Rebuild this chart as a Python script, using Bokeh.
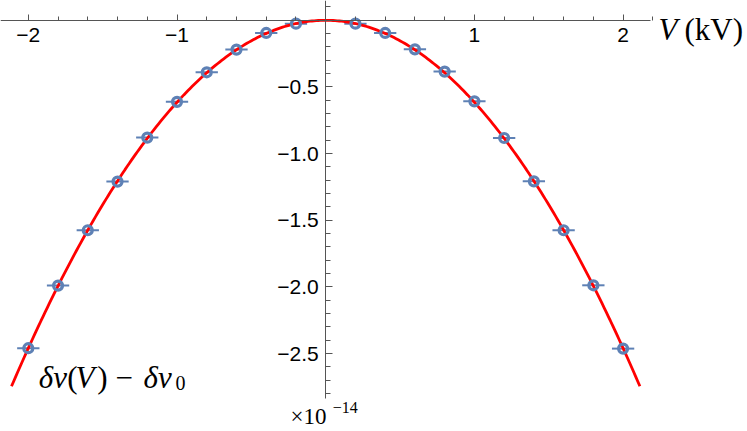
import numpy as np
from bokeh.plotting import figure
from bokeh.models import LinearAxis, FixedTicker, Label, Range1d
from bokeh.embed import file_html
from bokeh.resources import INLINE

# ---- data ----
V_kV = [-2.0, -1.8, -1.6, -1.4, -1.2, -1.0, -0.8, -0.6, -0.4, -0.2,
        0.2, 0.4, 0.6, 0.8, 1.0, 1.2, 1.4, 1.6, 1.8, 2.0]
dnu = [-2.46, -1.99, -1.575, -1.21, -0.88, -0.612, -0.39, -0.22, -0.095, -0.025,
       -0.025, -0.095, -0.218, -0.385, -0.608, -0.883, -1.208, -1.575, -1.988, -2.463]
V_err = [0.075] * 20
fit_coeff = -0.615          # quadratic fit: dnu = fit_coeff * V^2
fit_span = [-2.113, 2.113]

x_ticks = [-2, -1, 1, 2]
x_tick_labels = ["\u22122", "\u22121", "1", "2"]
y_ticks = [-0.5, -1.0, -1.5, -2.0, -2.5]
y_tick_labels = ["\u22120.5", "\u22121.0", "\u22121.5", "\u22122.0", "\u22122.5"]

BLUE = "#5E81B5"
AXIS = "#555555"

p = figure(width=747, height=431, output_backend="svg", toolbar_location=None,
           x_axis_location=None, y_axis_location=None,
           x_range=Range1d(-2.1870, 2.8366), y_range=Range1d(-3.0848, 0.1485),
           min_border=0)
p.outline_line_color = None
p.background_fill_color = "white"
p.border_fill_color = "white"
p.xgrid.visible = False
p.ygrid.visible = False

x_minor = [round(v, 1) for v in np.arange(-2.2, 2.21, 0.2)
           if abs(round(v, 1)) > 1e-9 and round(v, 1) not in x_ticks]
y_minor = [round(v, 1) for v in np.arange(-2.8, 0.11, 0.1)
           if abs(round(v, 1)) > 1e-9 and round(v, 1) not in y_ticks]

xaxis = LinearAxis(fixed_location=0, bounds=(-2.1870, 2.1843),
                   ticker=FixedTicker(ticks=x_ticks, minor_ticks=x_minor),
                   major_label_overrides={float(k): v for k, v in zip(x_ticks, x_tick_labels)})
yaxis = LinearAxis(fixed_location=0, bounds=(-2.835, 0.1485),
                   ticker=FixedTicker(ticks=y_ticks, minor_ticks=y_minor),
                   major_label_overrides={float(k): v for k, v in zip(y_ticks, y_tick_labels)})
for ax, mj, mn, so in ((xaxis, 6, 4, 8), (yaxis, 7, 5, 7)):
    ax.axis_line_color = AXIS
    ax.axis_line_width = 1
    ax.major_tick_line_color = AXIS
    ax.minor_tick_line_color = AXIS
    ax.major_tick_in = mj
    ax.major_tick_out = 0
    ax.minor_tick_in = mn
    ax.minor_tick_out = 0
    ax.major_label_text_font = "Liberation Sans"
    ax.major_label_text_font_size = "21px"
    ax.major_label_text_color = "black"
    ax.major_label_standoff = so
p.add_layout(xaxis, "below")
p.add_layout(yaxis, "left")

# error bars
p.segment(x0=[v - e for v, e in zip(V_kV, V_err)], x1=[v + e for v, e in zip(V_kV, V_err)],
          y0=dnu, y1=dnu, line_color=BLUE, line_width=2)
# fit curve
xf = np.linspace(fit_span[0], fit_span[1], 300)
p.line(xf, fit_coeff * xf ** 2, line_color="#FF0000", line_width=2.8)
# data points (rings)
p.scatter(V_kV, dnu, marker="circle", size=9, line_width=3.2, line_color=BLUE, fill_color=None)

def lab(x, y, text, size, style="normal", font="Liberation Serif"):
    p.add_layout(Label(x=x, y=y, text=text, text_font=font, text_font_size=size,
                       text_font_style=style, text_color="black",
                       text_align="left", text_baseline="alphabetic"))

# axis label "V (kV)"
lab(2.2381, -0.0713, "V", "31px", "italic")
lab(2.4129, -0.0713, "(kV)", "31px")
# y label  δv(V) − δv0
yb = -2.6819
lab(-1.9294, yb, "\u03b4v", "31px", "italic")
lab(-1.7384, yb, "(", "31px")
lab(-1.6826, yb, "V", "31px", "italic")
lab(-1.5367, yb, ")", "31px")
lab(-1.4136, yb, "\u2212", "31px")
lab(-1.2253, yb, "\u03b4v", "31px", "italic")
lab(-1.0101, -2.7247, "0", "20px")
# scale factor
lab(-0.2367, -2.9725, "\u00d710", "23px")
lab(0.0470, -2.9050, "\u221214", "16px")

open("out.html", "w").write(file_html(p, INLINE))
